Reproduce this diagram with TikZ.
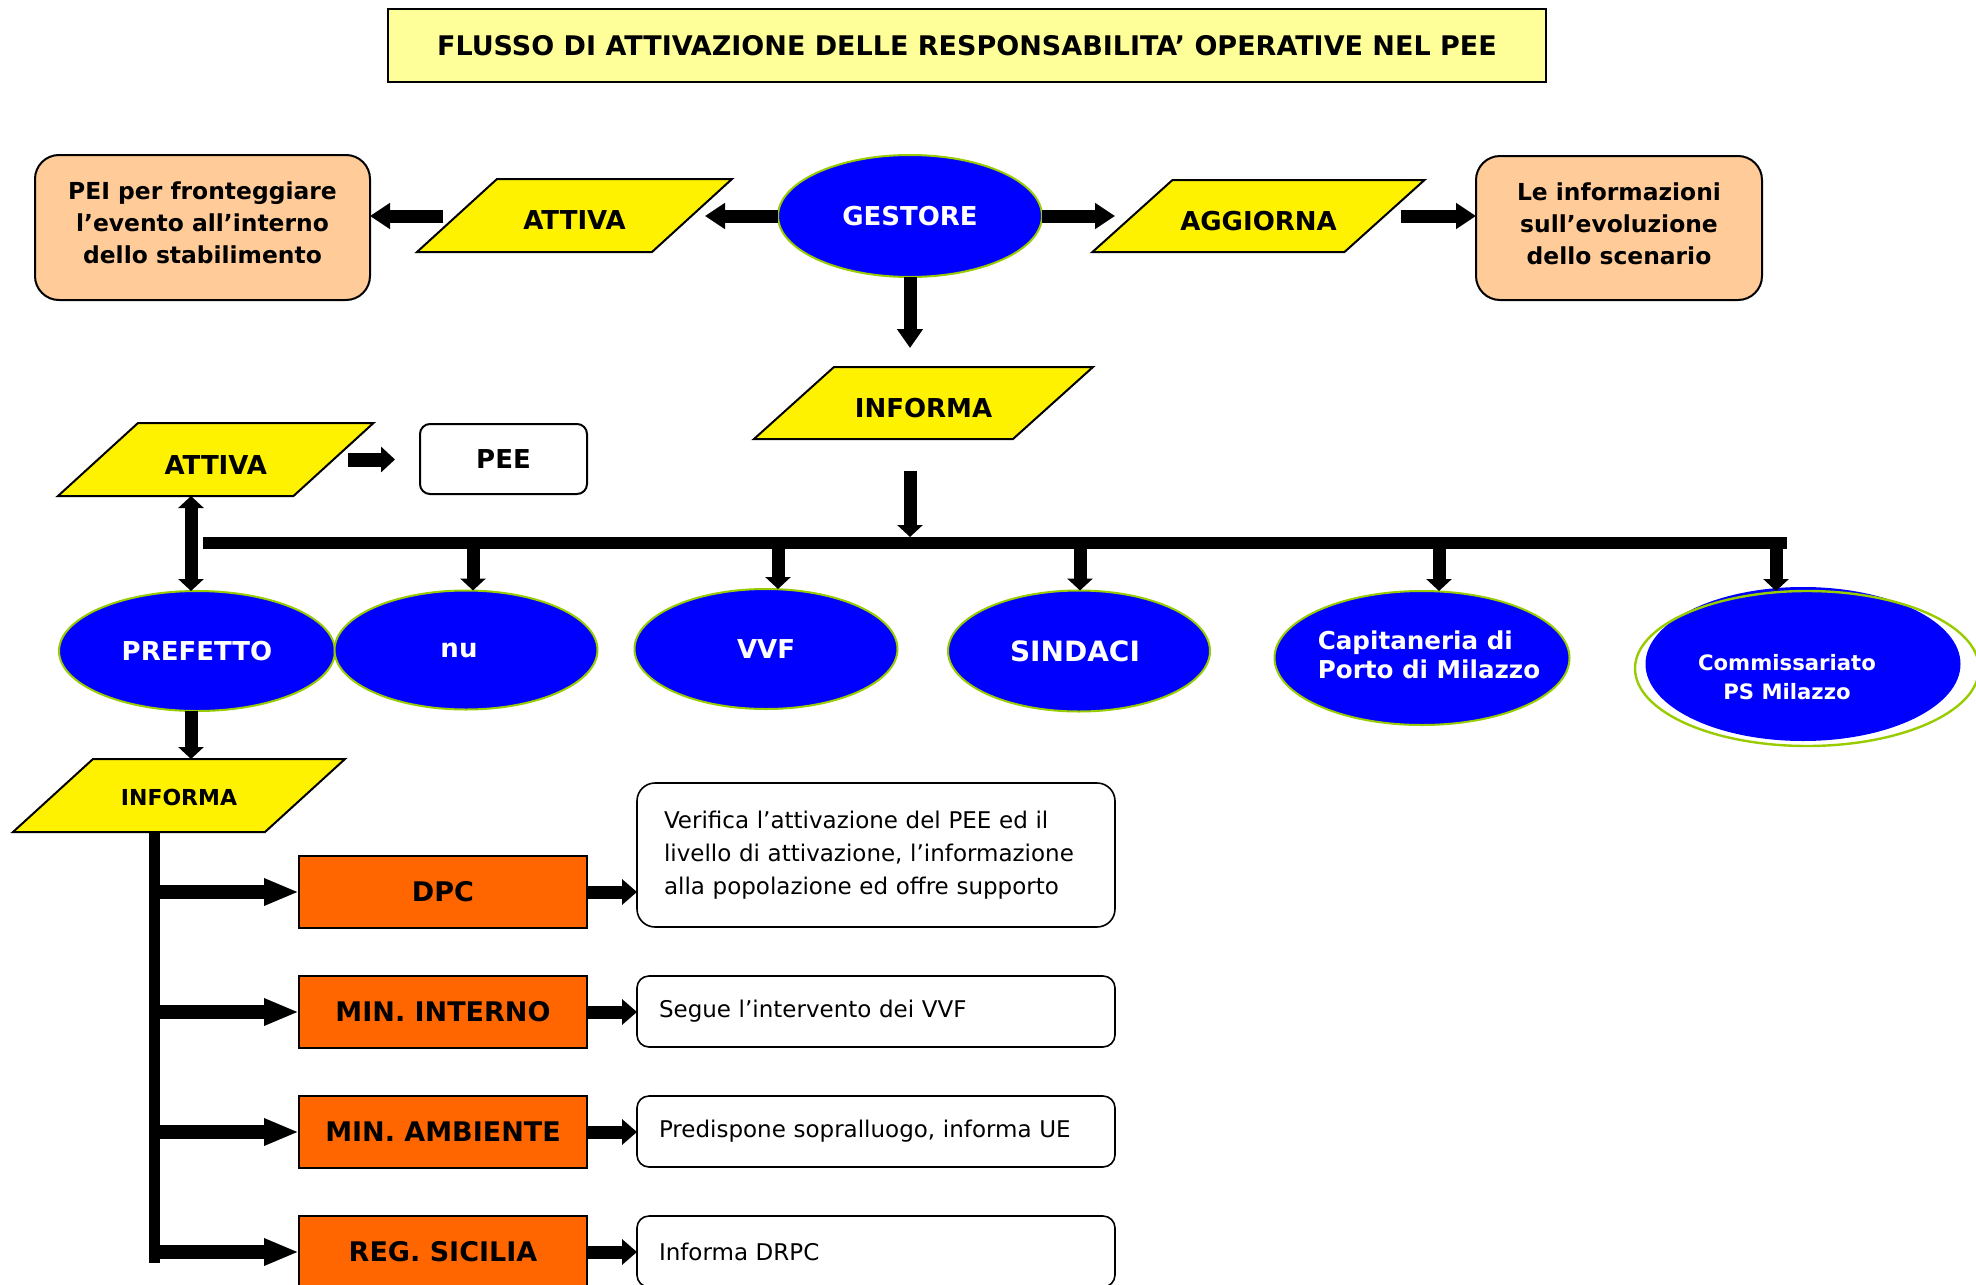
\documentclass[tikz,border=0pt]{standalone}
\usepackage{fontspec}
\setmainfont{DejaVu Sans}
\usetikzlibrary{shapes.geometric,arrows.meta}
\pgfdeclarelayer{bg}
\pgfsetlayers{bg,main}
\definecolor{titlefill}{HTML}{FFFF99}
\definecolor{peach}{HTML}{FFCC99}
\definecolor{orng}{HTML}{FF6600}
\definecolor{ellgreen}{HTML}{99CC00}
\newcommand\fsz[2]{\fontsize{#1}{#2}\selectfont}
\newcommand\shiftv[2]{\raisebox{#1}[\height][\depth]{#2}}
% #1 name, #2 centre, #3 width at mid height, #4 height, #5 extra options, #6 text
\newcommand\paranode[6]{%
  \node[paraN, minimum width=#3, minimum height=#4, #5] (#1) at #2 {#6};
  \begin{pgfonlayer}{bg}
    \filldraw[parafill] ([xshift=-20pt]#1.south west) -- ([xshift=20pt]#1.north west)
      -- ([xshift=20pt]#1.north east) -- ([xshift=-20pt]#1.south east) -- cycle;
  \end{pgfonlayer}}
\begin{document}
\begin{tikzpicture}[x=0.5pt,y=-0.5pt,
  every node/.style={outer sep=0pt, inner sep=0pt},
  paraN/.style={rectangle, font=\bfseries\fsz{13}{15}},
  parafill/.style={fill=yellow, draw=black, line width=1pt},
  blueell/.style={ellipse, fill=blue, draw=ellgreen, line width=1pt, text=white, inner sep=-40pt, font=\bfseries\fsz{13}{15}},
  peachbox/.style={rectangle, rounded corners=12pt, fill=peach, draw=black, line width=1pt, font=\bfseries\fsz{11.7}{16}},
  orangebox/.style={rectangle, fill=orng, draw=black, line width=1pt, minimum width=144pt, minimum height=36pt, font=\bfseries\fsz{13.5}{16}},
  notebox/.style={rectangle, rounded corners=6pt, draw=black, line width=0.8pt, fill=white, inner xsep=11pt, text width=217pt, align=left, font=\fsz{11.5}{16.5}},
  barrow/.style={line width=6.5pt, -{Triangle[length=10pt,width=12.5pt]}},
  droparrow/.style={line width=6.5pt, -{Triangle[length=6pt,width=12.5pt]}},
  bigarrow/.style={line width=7pt, -{Triangle[length=17.5pt,width=12.5pt]}},
  smallarrow/.style={line width=6.5pt, -{Triangle[length=7.5pt,width=12.5pt]}}
]
\useasboundingbox (0,0) rectangle (1976,1285);

\node[rectangle, fill=titlefill, draw=black, line width=1.2pt, minimum width=579pt, minimum height=36.5pt, font=\bfseries\fsz{13.5}{15}] (title) at (967,45.5) {FLUSSO DI ATTIVAZIONE DELLE RESPONSABILITA’ OPERATIVE NEL PEE};

\node[peachbox, minimum width=167.5pt, minimum height=72.5pt] (pei) at (202.5,227.5)
  {\shiftv{1.2pt}{\begin{tabular}{@{}c@{}}PEI per fronteggiare\\l’evento all’interno\\dello stabilimento\end{tabular}}};
\paranode{attA}{(574.5,215.5)}{117.5pt}{36.5pt}{}{\shiftv{-2.5pt}{ATTIVA}}
\node[blueell, minimum width=132pt, minimum height=61pt] (gest) at (910,216) {GESTORE};
\paranode{aggi}{(1258.5,216)}{126pt}{36pt}{}{\shiftv{-2.3pt}{AGGIORNA}}
\node[peachbox, minimum width=143pt, minimum height=72pt] (info) at (1619,228)
  {\shiftv{1.2pt}{\begin{tabular}{@{}c@{}}Le informazioni\\sull’evoluzione\\dello scenario\end{tabular}}};
\paranode{infC}{(923.5,403)}{129.5pt}{36pt}{}{\shiftv{-2.5pt}{INFORMA}}
\paranode{attL}{(215.75,459.5)}{117.75pt}{36.5pt}{}{\shiftv{-2.7pt}{ATTIVA}}
\node[rectangle, rounded corners=5pt, draw=black, line width=1pt, minimum width=83.5pt, minimum height=35pt, font=\bfseries\fsz{13}{15}] (pee) at (503.5,459) {PEE};

\node[blueell, minimum width=138pt, minimum height=60pt] (pref) at (197,651) {PREFETTO};
\node[blueell, minimum width=131.5pt, minimum height=59.5pt] (nu) at (466,650) {\kern-7pt nu};
\node[blueell, minimum width=131.5pt, minimum height=60pt] (vvf) at (766,649) {VVF};
\node[blueell, minimum width=131pt, minimum height=60.5pt, font=\bfseries\fsz{14}{15}] (sind) at (1079,651) {\kern-4pt SINDACI};
\node[blueell, minimum width=147.5pt, minimum height=67pt, align=left, font=\bfseries\fsz{12.3}{14.5}] (capi) at (1422,658) {\begin{tabular}{@{}l@{}}\kern7pt Capitaneria di\\\kern7pt Porto di Milazzo\end{tabular}};
\node[ellipse, fill=blue, minimum width=157.5pt, minimum height=77pt] (comm) at (1803,664) {};
\node[ellipse, draw=ellgreen, line width=1.2pt, minimum width=172pt, minimum height=77.5pt] (commO) at (1807,668.5) {};
\node[text=white, align=center, font=\bfseries\fsz{10.6}{14.5}] (commT) at (1787,677) {Commissariato\\PS Milazzo};

\paranode{infL}{(179,795.5)}{126pt}{36.5pt}{font=\bfseries\fsz{11}{13}}{\shiftv{-1pt}{INFORMA}}

\node[orangebox] (dpc) at (443,892) {DPC};
\node[orangebox] (mint) at (443,1012) {MIN. INTERNO};
\node[orangebox] (mamb) at (443,1132) {MIN. AMBIENTE};
\node[orangebox] (regs) at (443,1252) {REG. SICILIA};

\node[notebox, rounded corners=9pt, inner xsep=13.5pt, text width=212pt, minimum height=72pt] (wdpc) at (876,855) {Verifica l’attivazione del PEE ed il\\livello di attivazione, l’informazione\\alla popolazione ed offre supporto};
\node[notebox, minimum height=35.5pt] (wmint) at (876,1011.5) {Segue l’intervento dei VVF};
\node[notebox, minimum height=35.5pt] (wmamb) at (876,1131.5) {Predispone sopralluogo, informa UE};
\node[notebox, minimum height=35.5pt] (wregs) at (876,1251.5) {Informa DRPC};

\coordinate (vb) at (154,1263);
\coordinate (busL) at (203,543);
\coordinate (busR) at (1787,543);

% top row
\draw[barrow] (gest.west) -- ([xshift=6.5pt]gest.west -| attA.east);
\draw[barrow] ([xshift=-7pt]gest.west -| attA.west) -- (gest.west -| pei.east);
\draw[barrow] (gest.east) -- ([xshift=-8.75pt]gest.east -| aggi.west);
\draw[barrow] ([xshift=8pt]gest.east -| aggi.east) -- (gest.east -| info.west);
\draw[line width=6.5pt, -{Triangle[length=9.5pt,width=12.5pt]}] (gest.south) -- ([yshift=9.5pt]gest.south |- infC.north);

% bus
\draw[droparrow] ([yshift=-16pt]gest.south |- infC.south) -- ([yshift=3pt]gest.south |- busL);
\draw[line width=6pt] (busL) -- (busR);
\draw[droparrow] ([xshift=3.5pt]nu.north |- busL) -- ([xshift=3.5pt]nu.north);
\draw[droparrow] ([xshift=6pt]vvf.north |- busL) -- ([xshift=6pt]vvf.north);
\draw[droparrow] ([xshift=0.5pt]sind.north |- busL) -- ([xshift=0.5pt]sind.north);
\draw[droparrow] ([xshift=8.5pt]capi.north |- busL) -- ([xshift=8.5pt]capi.north);
\draw[droparrow] ([xshift=-13.5pt]comm.north |- busL) -- ([xshift=-13.5pt]comm.north |- commO.north);

% prefetto side
\draw[line width=6.5pt, {Triangle[length=6pt,width=12.5pt]}-{Triangle[length=6pt,width=12.5pt]}] ([xshift=-3pt]pref.north |- attL.south) -- ([xshift=-3pt]pref.north);
\draw[line width=7pt, -{Triangle[length=7pt,width=12.5pt]}] ([xshift=7pt]attL.east) -- ([xshift=-12.5pt]attL.east -| pee.west);
\draw[droparrow] ([xshift=-3pt]pref.south) -- ([xshift=-3pt]pref.south |- infL.north);

% left spine
\draw[line width=5.5pt] (vb |- infL.south) -- (vb);
\draw[bigarrow] (vb |- dpc.west) -- (dpc.west);
\draw[bigarrow] (vb |- mint.west) -- (mint.west);
\draw[bigarrow] (vb |- mamb.west) -- (mamb.west);
\draw[bigarrow] (vb |- regs.west) -- (regs.west);
\draw[smallarrow] (dpc.east) -- (dpc.east -| wdpc.west);
\draw[smallarrow] (mint.east) -- (mint.east -| wmint.west);
\draw[smallarrow] (mamb.east) -- (mamb.east -| wmamb.west);
\draw[smallarrow] (regs.east) -- (regs.east -| wregs.west);
\end{tikzpicture}
\end{document}
